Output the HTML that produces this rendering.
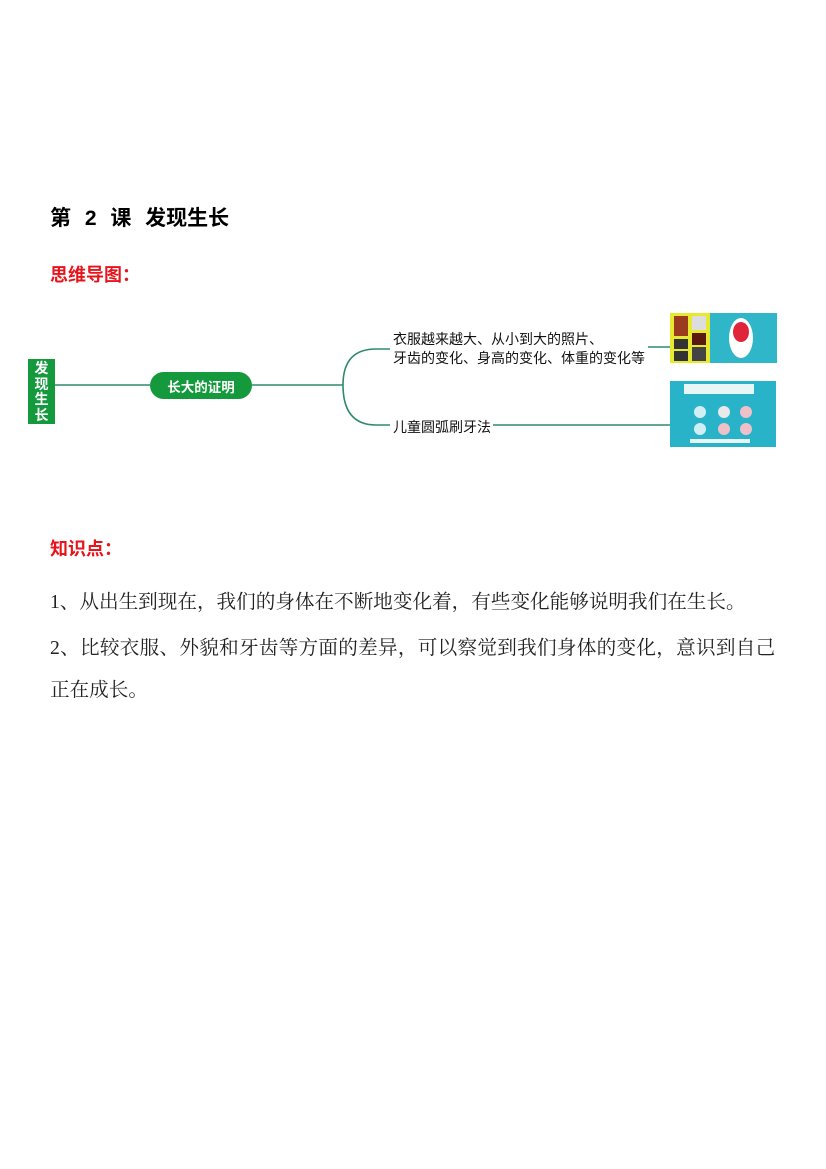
<!DOCTYPE html>
<html><head><meta charset="utf-8"><style>
body{margin:0;width:826px;height:1169px;background:#fff;position:relative;overflow:hidden}
.a{position:absolute;white-space:nowrap}
.h{font-family:"Liberation Sans","Noto Sans CJK SC",sans-serif;font-weight:bold}
.p{font-family:"Liberation Serif","Noto Serif CJK SC",serif;font-size:19.6px;color:#222}
.m{font-family:"Liberation Sans","Noto Sans CJK SC",sans-serif;font-size:14px;color:#111}
</style></head><body>
<div class="a h" style="left:50px;top:202px;font-size:21px;word-spacing:8px;color:#000">第 2 课 发现生长</div>
<div class="a h" style="left:50px;top:261px;font-size:18px;color:#e8141c">思维导图：</div>

<svg class="a" style="left:0;top:300px" width="826" height="160">
<g stroke="#2f8a6a" stroke-width="1.6" fill="none">
<line x1="55" y1="85" x2="150" y2="85"/>
<line x1="252" y1="85" x2="343" y2="85"/>
<path d="M343 85 Q343 49 376 49 L390 49"/>
<path d="M343 85 Q343 125 376 125 L390 125"/>
<line x1="648" y1="47" x2="670" y2="47"/>
<line x1="493" y1="125" x2="670" y2="125"/>
</g>
<rect x="28" y="59" width="27" height="65" fill="#149a3c"/>
<rect x="150" y="72" width="102" height="27" rx="13.5" fill="#149a3c"/>
<rect x="670" y="13" width="40" height="50" fill="#e7e830"/>
<rect x="674" y="16" width="14" height="20" fill="#9a3a1e"/><rect x="692" y="16" width="14" height="14" fill="#ddd"/>
<rect x="674" y="39" width="14" height="10" fill="#333"/><rect x="692" y="33" width="14" height="12" fill="#5a1a10"/>
<rect x="674" y="51" width="14" height="10" fill="#333"/><rect x="692" y="47" width="14" height="14" fill="#444"/>
<rect x="710" y="13" width="67" height="50" fill="#2fb6c9"/>
<ellipse cx="741" cy="38" rx="12" ry="20" fill="#fff"/><ellipse cx="741" cy="32" rx="8" ry="10" fill="#e0243a"/>
<rect x="670" y="81" width="106" height="66" fill="#29b3c8"/>
<rect x="684" y="84" width="70" height="10" fill="#e9f6f8"/>
<circle cx="700" cy="112" r="6" fill="#cfeff5"/><circle cx="724" cy="112" r="6" fill="#e9e9e9"/><circle cx="746" cy="112" r="6" fill="#f0c0c8"/>
<circle cx="700" cy="129" r="6" fill="#cfeff5"/><circle cx="724" cy="129" r="6" fill="#f0c0c8"/><circle cx="746" cy="129" r="6" fill="#f0c0c8"/>
<rect x="690" y="139" width="60" height="4" fill="#e9f6f8"/>
</svg>
<div class="a h" style="left:28px;top:361px;width:27px;font-size:14px;line-height:15.5px;color:#fff;text-align:center;white-space:normal">发现生长</div>
<div class="a h" style="left:150px;top:376px;width:102px;font-size:13.5px;color:#fff;text-align:center">长大的证明</div>
<div class="a m" style="left:393px;top:330px;line-height:19px">衣服越来越大、从小到大的照片、<br>牙齿的变化、身高的变化、体重的变化等</div>
<div class="a m" style="left:393px;top:417px">儿童圆弧刷牙法</div>

<div class="a h" style="left:50px;top:535px;font-size:18px;color:#e8141c">知识点：</div>
<div class="a p" style="left:50px;top:585px">1、从出生到现在，我们的身体在不断地变化着，有些变化能够说明我们在生长。</div>
<div class="a p" style="left:50px;top:631px;letter-spacing:0.28px">2、比较衣服、外貌和牙齿等方面的差异，可以察觉到我们身体的变化，意识到自己</div>
<div class="a p" style="left:50px;top:673px">正在成长。</div>
</body></html>
